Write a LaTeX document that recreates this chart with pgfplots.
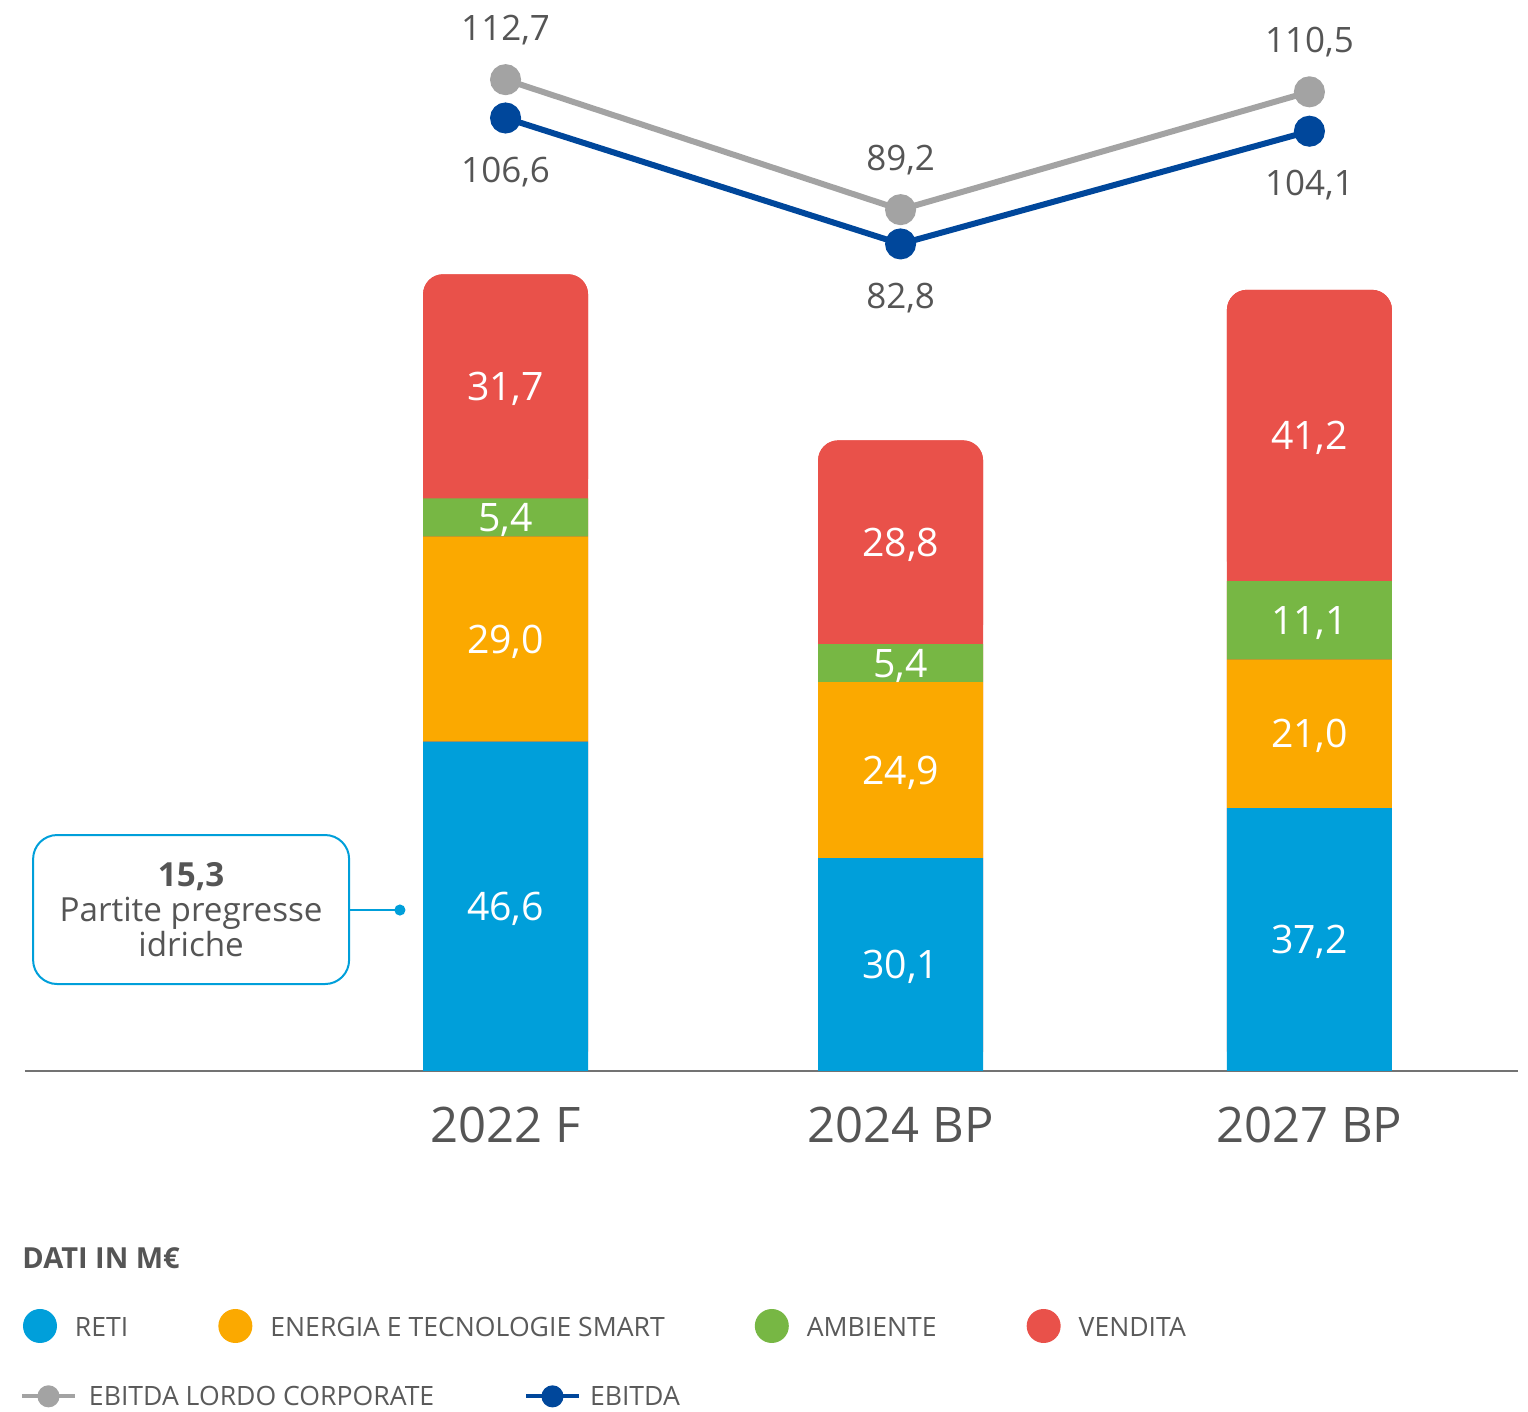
\documentclass[border=0pt]{standalone}
\usepackage{fontspec}
\setmainfont{Open Sans}
\usepackage{pgfplots}
\usepackage{pgfplotstable}
\pgfplotsset{compat=1.18}
\usetikzlibrary{arrows.meta}

\definecolor{reti}{HTML}{009FDA}
\definecolor{energia}{HTML}{FBA900}
\definecolor{ambiente}{HTML}{77B744}
\definecolor{vendita}{HTML}{E9514A}
\definecolor{lordo}{HTML}{A3A3A3}
\definecolor{ebitda}{HTML}{00479B}
\definecolor{txt}{HTML}{555555}
\definecolor{legtxt}{HTML}{5A5A5A}

% segmenti (M euro)
\pgfplotstableread{
x     reti energia ambiente vendita
0     46.6 29.0    5.4      31.7
1     30.1 24.9    5.4      28.8
2.035 37.2 21.0    11.1     41.2
}\segmenti

\pgfplotstableread{
x     lordo ebitda
0     112.7 106.6
1     89.2  82.8
2.035 110.5 104.1
}\linee

\tikzset{lab/.style={font=\fontsize{19.6}{22}\selectfont, text=white, text depth=0pt}}

\pgfplotsset{
  base/.style={
    scale only axis, width=746.5pt, height=535.5pt,
    xmin=-1.2165, xmax=2.563,
    at={(0pt,0pt)}, anchor=south west, clip=false,
  },
  numfmt/.style={
    /pgf/number format/use comma,
    /pgf/number format/fixed,
    /pgf/number format/fixed zerofill,
    /pgf/number format/precision=1,
    /pgf/number format/assume math mode=true,
  },
  legend base/.style={
    legend style={draw=none, fill=none, inner sep=0pt, outer sep=0pt,
      anchor=west,
      nodes={inner sep=0pt, font=\fontsize{13.3}{15}\selectfont, text=legtxt}},
  },
}

\begin{document}
\begin{tikzpicture}
\useasboundingbox (-12.5pt,-170.5pt) rectangle (751.5pt,535.5pt);

% red rounded background (total height = lordo)
\begin{axis}[base, hide axis, ymin=0, ymax=151.5]
\addplot[ybar, bar width=82.5pt, fill=vendita, draw=none, rounded corners=10pt]
  table[x=x, y=lordo]{\linee};
\end{axis}

\begin{axis}[base, ymin=0, ymax=151.5,
  ybar stacked, bar width=82.5pt,
  axis x line=bottom, axis y line=none,
  axis line style={-, draw=black!55, line width=0.75pt},
  xtick={0,1,2.035}, xticklabels={2022 F, 2024 BP, 2027 BP},
  major tick length=0pt, ytick=\empty,
  xticklabel style={font=\fontsize{24.5}{28}\selectfont, text=txt, anchor=base, yshift=-36pt},
  legend base, legend columns=4,
  legend style={at={(axis description cs:0,0)}, xshift=-1pt, yshift=-127.5pt,
    /tikz/every even column/.append style={column sep=45pt}},
  legend image code/.code={\fill[#1] (8.5pt,1.1pt) circle (8.5pt); \path (26pt,0pt);},
]
\addplot[fill=reti, draw=none] table[x=x, y=reti]{\segmenti};
\addlegendentry{RETI}
\addplot[fill=energia, draw=none] table[x=x, y=energia]{\segmenti};
\addlegendentry{ENERGIA E TECNOLOGIE SMART}
\addplot[fill=ambiente, draw=none] table[x=x, y=ambiente]{\segmenti};
\addlegendentry{AMBIENTE}
\addplot[fill=vendita, draw=none, rounded corners=10pt] table[x=x, y=vendita]{\segmenti};
\addlegendentry{VENDITA}

\node[draw=reti, line width=1pt, rounded corners=12pt, minimum width=158pt,
  minimum height=74.5pt, align=center, text=txt,
  font=\fontsize{16.6}{17.5}\selectfont] at (axis cs:-0.796,22.84)
  {{\bfseries 15,3}\\Partite pregresse\\idriche};
\draw[reti, line width=1pt, -{Circle[length=5.5pt]}] (axis cs:-0.3962,22.77) -- (axis cs:-0.2535,22.77);

\node[anchor=west, inner sep=0pt, text=txt, font=\bfseries\fontsize{14.5}{16}\selectfont]
  at (axis description cs:0,0) [xshift=-1.5pt, yshift=-93.5pt] {DATI IN M€};
\end{axis}

% etichette dei segmenti
\begin{axis}[base, hide axis, ymin=0, ymax=151.5]
\node[lab] at (axis cs:0,23.3) {46,6};
\node[lab] at (axis cs:0,61.1) {29,0};
\node[lab] at (axis cs:0,78.3) {5,4};
\node[lab] at (axis cs:0,96.85) {31,7};
\node[lab] at (axis cs:1,15.05) {30,1};
\node[lab] at (axis cs:1,42.55) {24,9};
\node[lab] at (axis cs:1,57.7) {5,4};
\node[lab] at (axis cs:1,74.8) {28,8};
\node[lab] at (axis cs:2.035,18.6) {37,2};
\node[lab] at (axis cs:2.035,47.7) {21,0};
\node[lab] at (axis cs:2.035,63.75) {11,1};
\node[lab] at (axis cs:2.035,89.9) {41,2};
\end{axis}

% EBITDA lordo corporate
\begin{axis}[base, hide axis, ymin=-66.5, ymax=127.1, numfmt,
  legend base,
  legend style={at={(axis description cs:0,0)}, xshift=-2.5pt, yshift=-163pt},
  legend image code/.code={\draw[lordo, line width=2pt] (0pt,0.6pt) -- (26.5pt,0.6pt);
    \fill[lordo] (13.25pt,0.6pt) circle (4pt); \path (32pt,0pt);},
]
\addplot[color=lordo, line width=3pt, mark=*, mark size=6.25pt,
  mark options={fill=lordo, draw=none},
  nodes near coords,
  every node near coord/.append style={anchor=center, yshift=26pt, text=txt,
    text depth=0pt, font=\fontsize{17.5}{20}\selectfont}]
  table[x=x, y=lordo]{\linee};
\addlegendentry{EBITDA LORDO CORPORATE}
\end{axis}

% EBITDA
\begin{axis}[base, hide axis, ymin=-73.5, ymax=128.9, numfmt,
  legend base,
  legend style={at={(axis description cs:0,0)}, xshift=249.5pt, yshift=-163pt},
  legend image code/.code={\draw[ebitda, line width=2pt] (0pt,0.6pt) -- (26.5pt,0.6pt);
    \fill[ebitda] (13.25pt,0.6pt) circle (4pt); \path (30.5pt,0pt);},
]
\addplot[color=ebitda, line width=3pt, mark=*, mark size=6.25pt,
  mark options={fill=ebitda, draw=none},
  nodes near coords,
  every node near coord/.append style={anchor=center, yshift=-26pt, text=txt,
    text depth=0pt, font=\fontsize{17.5}{20}\selectfont}]
  table[x=x, y=ebitda]{\linee};
\addlegendentry{EBITDA}
\end{axis}
\end{tikzpicture}
\end{document}
